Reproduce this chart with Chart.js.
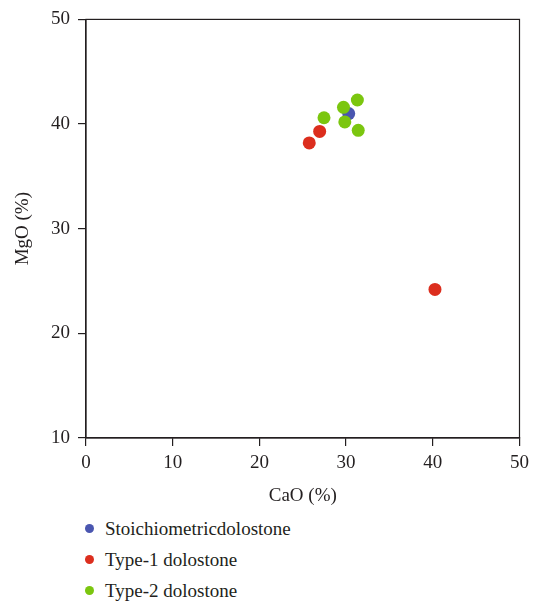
<!DOCTYPE html>
<html>
<head>
<meta charset="utf-8">
<script src="https://cdn.jsdelivr.net/npm/chart.js@4.4.1/dist/chart.umd.min.js"></script>
<style>
body { margin: 0; background: #fff; }
#wrap { position: relative; width: 535px; height: 601px; }
#legend { position: absolute; left: 85px; top: 513px; font: 19px "Liberation Serif", serif; color: #231f20; }
.item { height: 31px; display: flex; align-items: center; white-space: nowrap; }
.dot { width: 9px; height: 9px; border-radius: 50%; margin-right: 11px; }
</style>
</head>
<body>
<div id="wrap">
  <canvas id="grafico" width="535" height="510"></canvas>
  <div id="legend"></div>
</div>
<script>
// series names and colours
var nombres = ['Stoichiometricdolostone', 'Type-1 dolostone', 'Type-2 dolostone'];
var colores = ['#4a56b0', '#dc2e1e', '#7bc60f'];

// CaO (%) / MgO (%)
var esteq_cao = [30.3];
var esteq_mgo = [41.0];
var tipo1_cao = [26.95, 25.75, 40.25];
var tipo1_mgo = [39.3, 38.2, 24.2];
var tipo2_cao = [27.45, 29.7, 31.3, 29.85, 31.4];
var tipo2_mgo = [40.6, 41.6, 42.3, 40.2, 39.4];

// axis ticks
var ticks_x = [0, 10, 20, 30, 40, 50];
var ticks_y = [10, 20, 30, 40, 50];

function puntos(xs, ys) {
    return xs.map(function (x, i) { return { x: x, y: ys[i] }; });
}

var fuente = { family: '"Liberation Serif", serif', size: 19 };

// draws the box round the plot area
var marco = {
    id: 'marco',
    beforeDatasetsDraw: function (chart) {
        var a = chart.chartArea, ctx = chart.ctx;
        ctx.save();
        ctx.strokeStyle = '#231f20';
        ctx.lineWidth = 1.2;
        ctx.strokeRect(a.left, a.top, a.right - a.left, a.bottom - a.top);
        ctx.restore();
    }
};

var ctx = document.getElementById("grafico").getContext("2d");
var series = [puntos(esteq_cao, esteq_mgo), puntos(tipo1_cao, tipo1_mgo), puntos(tipo2_cao, tipo2_mgo)];
var ordenes = [1, 2, 0];

var grafico = new Chart(ctx, {
    type: 'scatter',
    data: {
        datasets: series.map(function (d, i) {
            return {
                label: nombres[i],
                data: d,
                backgroundColor: colores[i],
                borderWidth: 0,
                pointRadius: 6.5,
                order: ordenes[i]
            };
        })
    },
    options: {
        responsive: false,
        animation: false,
        layout: { padding: { top: 17, right: 12, left: 0, bottom: 0 } },
        plugins: { legend: { display: false }, tooltip: { enabled: false } },
        scales: {
            x: {
                type: 'linear', min: 0, max: 50,
                afterBuildTicks: function (s) { s.ticks = ticks_x.map(function (v) { return { value: v }; }); },
                afterFit: function (s) { s.height = 72; },
                grid: { drawOnChartArea: false, tickLength: 8, color: '#231f20', lineWidth: 1.2 },
                border: { display: true, color: '#231f20', width: 1.2 },
                ticks: { font: fuente, color: '#231f20', padding: 6, maxRotation: 0 },
                title: { display: true, text: 'CaO (%)', font: fuente, color: '#231f20', padding: { top: 0, bottom: 2.8 } }
            },
            y: {
                type: 'linear', min: 10, max: 50,
                afterBuildTicks: function (s) { s.ticks = ticks_y.map(function (v) { return { value: v }; }); },
                afterFit: function (s) { s.width = 86; },
                grid: { drawOnChartArea: false, tickLength: 8, color: '#231f20', lineWidth: 1.2 },
                border: { display: true, color: '#231f20', width: 1.2 },
                ticks: { font: fuente, color: '#231f20', padding: 8 },
                title: { display: true, text: 'MgO (%)', font: fuente, color: '#231f20', padding: { top: 12, bottom: 0 } }
            }
        }
    },
    plugins: [marco]
});

// legend as a vertical list under the chart
var leyenda = document.getElementById('legend');
nombres.forEach(function (n, i) {
    var fila = document.createElement('div');
    fila.className = 'item';
    var punto = document.createElement('span');
    punto.className = 'dot';
    punto.style.background = colores[i];
    fila.appendChild(punto);
    fila.appendChild(document.createTextNode(n));
    leyenda.appendChild(fila);
});
</script>
</body>
</html>
